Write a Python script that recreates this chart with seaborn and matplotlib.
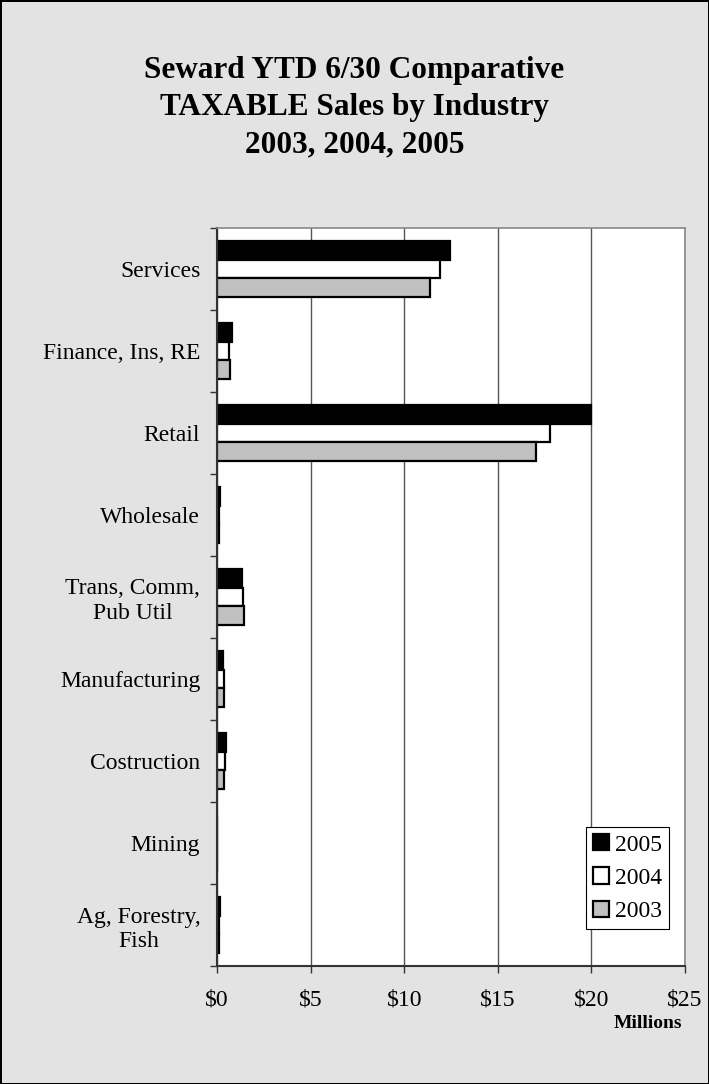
import matplotlib
matplotlib.use("Agg")
import matplotlib.pyplot as plt
import seaborn as sns
import pandas as pd

industries = ["Services", "Finance, Ins, RE", "Retail", "Wholesale",
              "Trans, Comm,\nPub Util", "Manufacturing", "Costruction",
              "Mining", "Ag, Forestry,\nFish"]
years = ["2005", "2004", "2003"]
sales_2005 = [12.47, 0.80, 20.0, 0.15, 1.36, 0.30, 0.47, 0.0, 0.18]
sales_2004 = [11.90, 0.65, 17.8, 0.10, 1.41, 0.35, 0.42, 0.0, 0.12]
sales_2003 = [11.40, 0.72, 17.06, 0.10, 1.46, 0.35, 0.40, 0.0, 0.12]
xticks = [0, 5, 10, 15, 20, 25]

rows = []
for yr, vals in zip(years, [sales_2005, sales_2004, sales_2003]):
    for ind, v in zip(industries, vals):
        rows.append({"Industry": ind, "Year": yr, "Sales": v})
df = pd.DataFrame(rows)

sns.set_style("white")
plt.rcParams["font.family"] = ["Liberation Serif", "DejaVu Serif"]
plt.rcParams["text.color"] = "black"
plt.rcParams["xtick.color"] = "black"
plt.rcParams["ytick.color"] = "black"

bg = "#e3e3e3"
fig = plt.figure(figsize=(7.09, 10.84), dpi=100, facecolor=bg,
                 edgecolor="black", linewidth=1.0)
ax = fig.add_axes([217 / 709, 118 / 1084, 468 / 709, 738 / 1084])

sns.barplot(data=df, y="Industry", x="Sales", hue="Year", hue_order=years,
            order=industries, orient="h", palette=["black", "white", "#c0c0c0"],
            edgecolor="black", linewidth=1.6, width=0.69, ax=ax, saturation=1)

ax.set_xlim(0, 25)
ax.set_ylim(8.5, -0.5)
ax.set_xticks(xticks)
ax.set_xticklabels([f"${t}" for t in xticks], fontsize=17)
ax.xaxis.grid(True, color="#555555", linewidth=1)
ax.set_axisbelow(True)

# category boundary ticks and centred labels
ax.set_yticks([i - 0.5 for i in range(len(industries) + 1)])
ax.set_yticklabels([])
ax.set_yticks(range(len(industries)), minor=True)
ax.set_yticklabels(industries, minor=True, fontsize=17, multialignment="center")
ax.tick_params(axis="y", which="minor", length=0, pad=12)
ax.tick_params(axis="y", which="major", length=5, width=1, color="#333333", direction="out", left=True)
ax.tick_params(axis="x", length=5, width=1, color="#333333", direction="out", bottom=True, pad=12)

for s in ["top", "right"]:
    ax.spines[s].set_color("#888888")
    ax.spines[s].set_linewidth(1.2)
for s in ["left", "bottom"]:
    ax.spines[s].set_color("#333333")
    ax.spines[s].set_linewidth(1.5)

ax.set_xlabel("")
ax.set_ylabel("")

leg = ax.legend(loc="lower right", bbox_to_anchor=(0.966, 0.05), fontsize=17,
                frameon=True, fancybox=False, edgecolor="black", framealpha=1,
                handlelength=0.68, handleheight=0.68, handletextpad=0.25,
                labelspacing=0.5, borderpad=0.3, borderaxespad=0)
leg.get_frame().set_linewidth(0.8)

fig.text(0.5, 1 - 108 / 1084,
         "Seward YTD 6/30 Comparative\nTAXABLE Sales by Industry\n2003, 2004, 2005",
         ha="center", va="center", fontsize=22.5, fontweight="bold",
         linespacing=1.38, color="black")
fig.text(648 / 709, 1 - 1024 / 1084, "Millions", ha="center", va="center",
         fontsize=14, fontweight="bold", color="black")

fig.savefig("out.png", dpi=100, facecolor=bg, edgecolor="black")
